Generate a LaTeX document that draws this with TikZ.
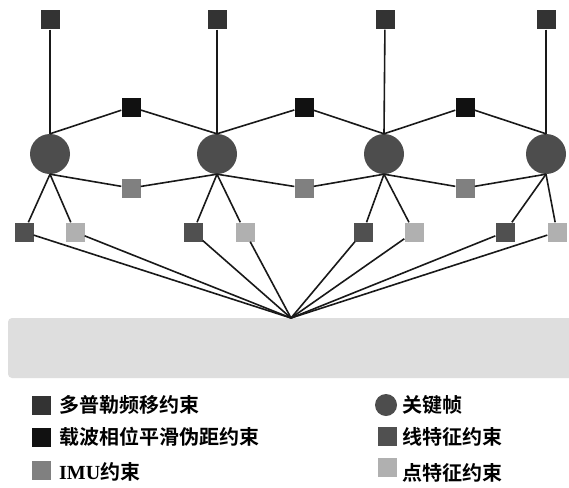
\documentclass[tikz,border=0pt]{standalone}
\usepackage{fontspec}
\setmainfont{Liberation Serif}
\newfontfamily\cjk{Noto Sans CJK SC}[BoldFont={* Bold}]
\begin{document}
\begin{tikzpicture}[x=1pt,y=-1pt,
  sq/.style={rectangle,minimum size=19pt,inner sep=0pt,draw=none},
  dop/.style={sq,fill=c33},
  car/.style={sq,fill=c11},
  imu/.style={sq,fill=c80},
  lin/.style={sq,fill=c50},
  pnt/.style={sq,fill=cb0},
  kf/.style={circle,minimum size=40pt,inner sep=0pt,fill=c4d},
  conn/.style={line width=1.6pt,black!90},
  lab/.style={anchor=west,inner sep=0pt,font=\fontsize{20}{22}\selectfont\bfseries}
]
\definecolor{c33}{HTML}{333333}
\definecolor{c11}{HTML}{111111}
\definecolor{c80}{HTML}{808080}
\definecolor{c50}{HTML}{505050}
\definecolor{cb0}{HTML}{B0B0B0}
\definecolor{c4d}{HTML}{4D4D4D}
\definecolor{cde}{HTML}{DEDEDE}
\useasboundingbox[fill=white] (0,0) rectangle (569,487);
% base
\fill[cde,rounded corners=4pt] (8,318) rectangle (580,378);
\coordinate (hub) at (291,318);
% keyframes
\node[kf] (k1) at (50,154) {};
\node[kf] (k2) at (217,154) {};
\node[kf] (k3) at (384,154) {};
\node[kf] (k4) at (546,154) {};
% doppler
\node[dop] (d1) at (50,20) {};
\node[dop] (d2) at (217,20) {};
\node[dop] (d3) at (385,20) {};
\node[dop] (d4) at (546,20) {};
% carrier
\node[car] (c1) at (131,107) {};
\node[car] (c2) at (304,107) {};
\node[car] (c3) at (465,107) {};
% imu
\node[imu] (i1) at (131,188) {};
\node[imu] (i2) at (304,188) {};
\node[imu] (i3) at (465,188) {};
% features
\node[lin] (l1) at (24,232) {};
\node[pnt] (p1) at (75,232) {};
\node[lin] (l2) at (193,232) {};
\node[pnt] (p2) at (245,232) {};
\node[lin] (l3) at (363,232) {};
\node[pnt] (p3) at (414,232) {};
\node[lin] (l4) at (505,232) {};
\node[pnt] (p4) at (557,232) {};
% connectors
\foreach \i in {1,2,3,4}{
  \draw[conn] (d\i) -- (k\i.north);
  \draw[conn] (k\i.south) -- (l\i);
  \draw[conn] (k\i.south) -- (p\i);
  \draw[conn] (l\i) -- (hub);
  \draw[conn] (p\i) -- (hub);
}
\foreach \i/\j in {1/2,2/3,3/4}{
  \draw[conn] (k\i.north) -- (c\i) -- (k\j.north);
  \draw[conn] (k\i.south) -- (i\i) -- (k\j.south);
}
% legend
\node[dop,minimum size=19pt] (ld) at (41,405) {};
\node[lab] (tld) at (59,405) {\cjk 多普勒频移约束};
\node[car,minimum size=19pt] (lc) at (41,437) {};
\node[lab] (tlc) at (59,437) {\cjk 载波相位平滑伪距约束};
\node[imu,minimum size=19pt] (li) at (41,470) {};
\node[lab] (tli) at (59,472) {IMU{\cjk 约束}};
\node[kf,minimum size=22pt] (lk) at (386,405) {};
\node[lab] (tlk) at (402,405) {\cjk 关键帧};
\node[lin,minimum size=19pt] (ll) at (387,436) {};
\node[lab] (tll) at (402,437) {\cjk 线特征约束};
\node[pnt,minimum size=19pt] (lp) at (387,467) {};
\node[lab] (tlp) at (402,473) {\cjk 点特征约束};
\end{tikzpicture}
\end{document}
